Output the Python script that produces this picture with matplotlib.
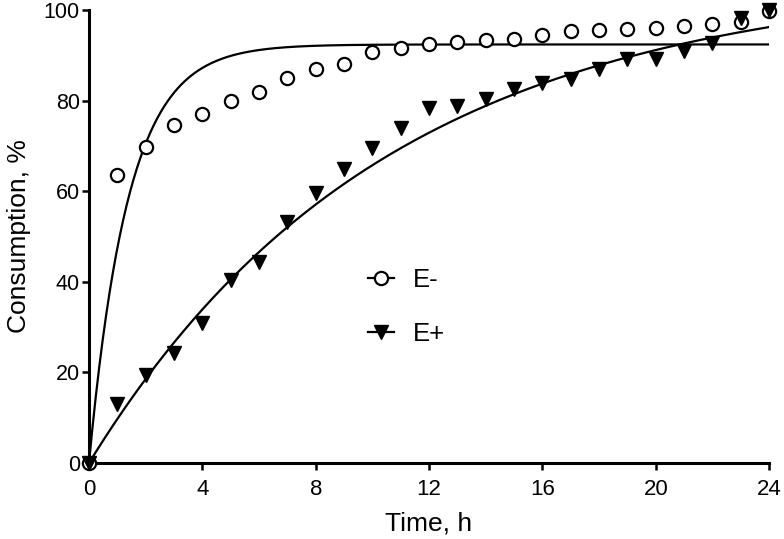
import numpy as np
import matplotlib
matplotlib.use("Agg")
import matplotlib.pyplot as plt

plt.rcParams['font.family'] = ['Liberation Sans', 'DejaVu Sans']

# measured time points, h
time_h = list(range(0, 25))

# consumption, %
e_minus = [0, 63.6, 69.8, 74.7, 77.0, 80.0, 81.8, 84.9, 86.9, 88.0, 90.8, 91.6,
           92.6, 92.9, 93.4, 93.7, 94.5, 95.3, 95.5, 95.8, 96.0, 96.5, 96.9, 97.3, 99.8]
e_plus = [0, 13.0, 19.4, 24.3, 30.8, 40.4, 44.3, 53.3, 59.5, 64.9, 69.6, 74.0,
          78.3, 78.8, 80.3, 82.5, 84.0, 84.8, 87.0, 89.1, 89.1, 91.0, 92.8, 98.3, 100.0]

# one-phase association fits: plateau, rate constant
fit_minus = (92.4, 0.72)
fit_plus = (107.2, 0.095)

fig = plt.figure(figsize=(7.84, 5.39), dpi=100)
ax = fig.add_axes([0.1135, 0.141, 0.8675, 0.8404])

tt = np.linspace(0, 24, 400)
for (plateau, k) in (fit_minus, fit_plus):
    ax.plot(tt, plateau * (1 - np.exp(-k * tt)), color='black', lw=1.6)

ax.plot(time_h, e_minus, 'o', ms=9.5, mfc='white', mec='black', mew=1.6,
        clip_on=False, zorder=3)
ax.plot(time_h, e_plus, 'v', ms=9.5, color='black', clip_on=False, zorder=3)

# legend handles: line with marker
h1, = ax.plot([], [], '-o', color='black', lw=1.6, ms=9.5, mfc='white', mew=1.6)
h2, = ax.plot([], [], '-v', color='black', lw=1.6, ms=9.5)
ax.legend([h1, h2], ['E-', 'E+'], loc='upper left', bbox_to_anchor=(0.41, 0.43),
          frameon=False, handlelength=1.0, labelspacing=1.15,
          handletextpad=0.75, borderpad=0, borderaxespad=0,
          prop={'family': ['Liberation Sans Narrow', 'Liberation Sans'], 'size': 18.5})

ax.set_xlim(0, 24)
ax.set_ylim(0, 100)
ax.set_xticks(range(0, 25, 4))
ax.set_yticks(range(0, 101, 20))
ax.set_xlabel('Time, h', fontsize=19, labelpad=8)
ax.set_ylabel('Consumption, %', fontsize=19, labelpad=9)
ax.tick_params(axis='x', labelsize=16, width=1.8, length=5, pad=6.5)
ax.tick_params(axis='y', labelsize=15.5, width=1.8, length=5, pad=1.5)
for side in ('top', 'right'):
    ax.spines[side].set_visible(False)
for side in ('left', 'bottom'):
    ax.spines[side].set_linewidth(2.2)

fig.savefig('out.png', dpi=100)
